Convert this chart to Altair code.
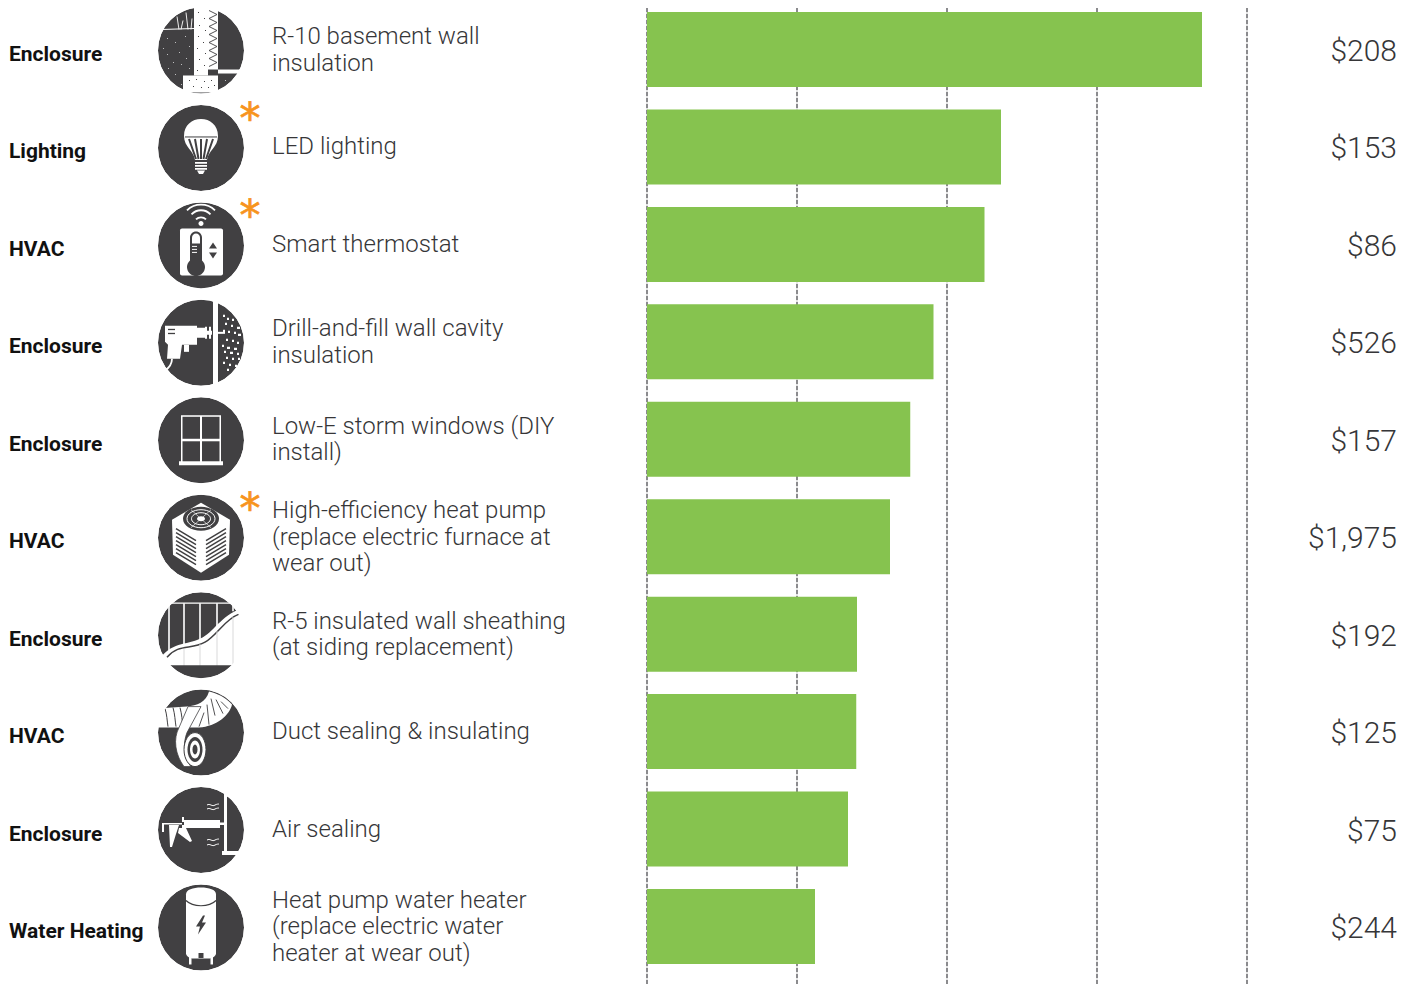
import altair as alt
import pandas as pd

categories = ["Enclosure", "Lighting", "HVAC", "Enclosure", "Enclosure", "HVAC", "Enclosure", "HVAC", "Enclosure", "Water Heating"]
measures = [
    "R-10 basement wall\ninsulation", "LED lighting", "Smart thermostat",
    "Drill-and-fill wall cavity\ninsulation", "Low-E storm windows (DIY\ninstall)",
    "High-efficiency heat pump\n(replace electric furnace at\nwear out)",
    "R-5 insulated wall sheathing\n(at siding replacement)", "Duct sealing & insulating",
    "Air sealing", "Heat pump water heater\n(replace electric water\nheater at wear out)",
]
ratios = [3.70, 2.36, 2.25, 1.91, 1.755, 1.62, 1.40, 1.395, 1.34, 1.12]
costs = ["$208", "$153", "$86", "$526", "$157", "$1,975", "$192", "$125", "$75", "$244"]
starred = [False, True, True, False, False, True, False, False, False, False]
grid_values = [0, 1, 2, 3, 4]

DARK = "#414042"; W = "#ffffff"; TEXT = "#363638"

def rect(x, y, w, h):
    return f"M{x} {y}h{w}v{h}h{-w}Z"

def ell(cx, cy, rx, ry):
    return f"M{cx-rx} {cy}a{rx} {ry} 0 1 0 {2*rx} 0a{rx} {ry} 0 1 0 {-2*rx} 0Z"

# icon drawings: (path in px around the circle centre, fill, stroke, stroke width)
icons = {
    0: [
        (rect(-7, -45, 14, 70), W, "none", 0), (rect(-18, 25, 35, 17), W, "none", 0),
        (rect(7, -45, 10, 64), W, "none", 0),
        ("M8-40L16-36M16-36L8-32L16-28L8-24L16-20L8-16L16-12L8-8L16-4L8 0L16 4L8 8L16 12L8 16", "none", DARK, 0.9),
        (rect(17, 19, 27, 4), W, "none", 0), ("M-40-21L-7-22", "none", W, 1),
        ("M-22-21L-24-34M-20-21L-18-30M-13-21L-15-38M-10-21L-9-32", "none", W, 0.9),
        ("M-3-38h1M3-32h1M-2-25h1M4-20h1M-3-14h1M2-8h1M-4-2h1M4 3h1M-2 9h1M3 15h1M-4 20h1M-12 30h1M-5 29h1M3 31h1M10 30h1M-8 36h1M0 37h1M7 37h1M13 35h1", "none", DARK, 1.2),
        ("M-34-12h1M-26-8h1M-16-14h1M-12-4h1M-22 2h1M-34 4h1M-15 8h1M-28 12h1M-38-2h1M-20 14h1M-33 18h1M-12 18h1M-26 24h1M-20 34h1M24 30h1M32 28h1", "none", "#bfbfc0", 1),
    ],
    1: [
        ("M-6 12C-7 3-17-1-17-12C-17-23-9-29 0-29C9-29 17-23 17-12C17-1 7 3 6 12Z", W, "none", 0),
        ("M-12-9L-5 11M-6-9L-2.500 11M0-9V11M6-9L2.500 11M12-9L5 11", "none", DARK, 2),
        ("M-16-11H16", "none", DARK, 1),
        ("M-6 15H6M-6 18H6M-6 21H6", "none", W, 1.800),
        ("M-4 22.500H4L2 26H-2Z", W, "none", 0),
    ],
    2: [
        ("M-21-15a2 2 0 0 1 2-2H20a2 2 0 0 1 2 2V28a2 2 0 0 1-2 2H-19a2 2 0 0 1-2-2Z", W, "none", 0),
        ("M-11 15V-8a6 6 0 0 1 12 0V15a9 9 0 1 1-12 0Z", DARK, "none", 0),
        ("M-9-2V-8a4 4 0 0 1 8 0V-2Z", W, "none", 0),
        ("M-9 1H-4M-9 4H-4M-9 7H-4", "none", W, 1),
        ("M12-3L16 3H8ZM12 13L16 7H8Z", DARK, "none", 0),
        (ell(0, -22, 2.5, 2.5), W, "none", 0),
        ("M-5-26A7 7 0 0 1 5-26M-9.500-31A13 13 0 0 1 9.500-31M-14-35A20 20 0 0 1 14-35", "none", W, 1.800),
    ],
    3: [
        (rect(12, -46, 5, 92), W, "none", 0),
        ("M-36-17H-4V2H-19L-21 16H-34L-33 2L-36-1Z", W, "none", 0),
        ("M-29 16C-29 22-32 25-36 28", "none", W, 1.8),
        ("M-4-15H4V-12H11V-8H4V-5H-4Z", W, "none", 0),
        (rect(4, -16, 2, 12), W, "none", 0), (rect(8, -16, 2, 12), W, "none", 0),
        (rect(12, -11, 12, 2), W, "none", 0),
        (rect(-17, 2, 5, 7), W, "none", 0),
        (rect(-33, -14, 7, 1.3), DARK, "none", 0), (rect(-33, -10, 7, 1.3), DARK, "none", 0),
        ("M22-27h2M26-24h2M31-23h2M24-19h2M30-17h2M36-15h3M22-12h2M27-11h2M33-10h2M37-8h3M25-3h2M31-2h2M36 0h2M21 3h2M26 5h3M33 6h3M23 9h2M29 10h3M36 11h2M25 15h2M31 16h2M37 16h2M22 20h2M28 22h2M34 23h2M26 27h2", "none", W, 2.4),
    ],
    4: [
        ("M-20-25H20V21H22V25H-22V21H-20Z", W, "none", 0),
        (rect(-18.5, -23.5, 17.5, 22), DARK, "none", 0), (rect(1, -23.5, 17.5, 22), DARK, "none", 0),
        (rect(-18.5, 1, 17.5, 20), DARK, "none", 0), (rect(1, 1, 17.5, 20), DARK, "none", 0),
    ],
    5: [
        ("M0-35L29-18L28 17L0 35L-28 17L-29-18Z", W, "none", 0),
        (ell(0, -19, 18, 12), DARK, "none", 0),
        (ell(0, -19, 14, 9), "none", W, 1), (ell(0, -19, 9.5, 6), "none", W, 1),
        (ell(0, -19, 4, 2.5), W, "none", 0),
        ("M-10-28L10-10M10-28L-10-10", "none", W, 0.6),
        ("M-25-9L-5 3M-25-5L-5 7M-25-1L-5 11M-25 3L-5 15M-25 7L-5 19M-25 11L-5 23M-25 15L-5 27M5 3L25-9M5 7L25-5M5 11L25-1M5 15L25 3M5 19L25 7M5 23L25 11M5 27L25 15", "none", DARK, 1.5),
    ],
    6: [
        ("M-40 22C-28 6-12 10 2 2C14-5 22-22 44-28V32H-40Z", W, "none", 0),
        ("M-34 22C-22 8-10 15 4 7C16 0 24-16 38-21", "none", DARK, 1.5),
        ("M-32-32V15M-17-32V9M-1-32V4M16-32V-9M32-32V-24", "none", W, 1.6),
        ("M-44-32H44", "none", W, 1.2),
        ("M-17 14V31M-1 9V31M16-4V31M32-18V31", "none", "#d9d9da", 1),
        ("M-30.800 30A43 43 0 0 0 30.800 30Z", DARK, "none", 0),
    ],
    7: [
        ("M-44-24L-14-26C-4-27 5-30 8-41C16-39 24-36 31-28C29-18 16-6-2-5L-44-5Z", W, "none", 0),
        ("M-36-24C-34-18-34-12-33-6M-28-25C-26-18-26-12-25-6M-21-25C-19-18-19-12-18-6", "none", DARK, 1),
        ("M10-34L14-17M15-33L22-19M20-31L27-24M6-28L8-8M3-20L-2-6", "none", DARK, 0.9),
        ("M-13-26H0L-14 0C-18 10-18 25-10 34H-17C-26 22-28 6-22-5Z", W, DARK, 0.8),
        (ell(-6, 17, 11, 17), W, DARK, 1),
        (ell(-6, 17, 7.5, 12.5), DARK, "none", 0),
        (ell(-6, 17, 5, 9), W, "none", 0),
        (ell(-6, 17, 2.5, 5), DARK, "none", 0),
    ],
    8: [
        ("M23-37H26V21H37V25H21V21H23Z", W, "none", 0),
        ("M26-34L44-29", "none", W, 1),
        ("M-18-10H19V-7.500H23V-5H19V-2H-18Z", W, "none", 0),
        ("M-39 2V-7H-18V-5.500H-37V2Z", W, "none", 0),
        ("M-32-5H-22L-25 4L-29 17H-31ZM-22-2H-15L-9 11L-11 12L-23 3Z", W, "none", 0),
        (rect(-19, -13, 2, 11), W, "none", 0), (rect(-19, -8, 2, 3), DARK, "none", 0),
        ("M6-25C9-27 11-23 14-25C16-26 17-26 18-26M6-21C9-23 11-19 14-21C16-22 17-22 18-22M6 10C9 8 11 12 14 10C16 9 17 9 18 9M6 15C9 13 11 17 14 15C16 14 17 14 18 14", "none", W, 1),
    ],
    9: [
        ("M-15-33C-15-38-8-40 0-40C8-40 15-38 15-33V26C15 29 10 31 8 31H-8C-10 31-15 29-15 26Z", W, "none", 0),
        (rect(-12, 28, 2.5, 9), W, "none", 0), (rect(9.5, 28, 2.5, 9), W, "none", 0),
        ("M-15-27C-8-20 8-20 15-27", "none", DARK, 1.2),
        ("M2-12L-5-1H-1L-3 7L5-5H1L4-12Z", DARK, "none", 0),
        (rect(-2.5, 25.5, 5, 5), DARK, "none", 0),
    ],
}

bars = pd.DataFrame({"category": categories, "measure": measures, "ratio": ratios, "cost": costs})
bars["lines"] = [m.count("\n") + 1 for m in measures]
stars = bars[starred]
grid = pd.DataFrame({"tick": grid_values})

parts = []
for i, m in enumerate(measures):
    parts.append({"measure": m, "path": "circle", "fill": DARK, "stroke": "none", "sw": 0, "size": 7396})
    for p, f, s, sw in icons[i]:
        parts.append({"measure": m, "path": p, "fill": f, "stroke": s, "sw": sw, "size": 4})
    ring = "M-47 0A47 47 0 1 1 47 0A47 47 0 1 1-47 0Z"
    parts.append({"measure": m, "path": ring, "fill": "none", "stroke": W, "sw": 8, "size": 4})
parts = pd.DataFrame(parts)

x_scale = alt.Scale(domain=[0, 4], range=[639, 1239])
y_scale = alt.Scale(domain=measures, range=[4, 956], paddingInner=0.23, paddingOuter=0)
Y = alt.Y("measure:N", scale=y_scale, axis=None, sort=None)
fix = dict(scale=None)

grid_under = alt.Chart(grid).mark_rule(color="#dcdcdc", strokeWidth=1.5).encode(
    x=alt.X("tick:Q", scale=x_scale, axis=None))
gridlines = alt.Chart(grid).mark_rule(color="#6d6e71", strokeWidth=1.5, strokeDash=[4, 2]).encode(
    x=alt.X("tick:Q", scale=x_scale, axis=None))
bar = alt.Chart(bars).mark_bar(color="#86C34F", cornerRadius=0).encode(
    x=alt.X("ratio:Q", scale=x_scale, axis=None), x2=alt.datum(0), y=Y)
icon = alt.Chart(parts).mark_point(filled=True, opacity=1, yOffset=1).encode(
    x=alt.value(193), y=Y,
    shape=alt.Shape("path:N", **fix), fill=alt.Fill("fill:N", **fix),
    stroke=alt.Stroke("stroke:N", **fix), strokeWidth=alt.StrokeWidth("sw:Q", **fix),
    size=alt.Size("size:Q", **fix))
star = alt.Chart(stars).mark_text(text="*", font="DejaVu Sans", fontSize=42, color="#F7941D", stroke="#F7941D", strokeWidth=0.7, dy=-27, baseline="middle", align="center").encode(
    x=alt.value(242), y=Y)
cat = alt.Chart(bars).mark_text(font="Roboto", fontWeight=700, fontSize=21, color="#111111", align="left", baseline="middle", dy=5.5).encode(
    x=alt.value(1), y=Y, text="category:N")
label_layers = [
    alt.Chart(bars[bars["lines"] == n]).mark_text(
        font="Roboto", fontWeight=300, fontSize=24, lineHeight=26.5, lineBreak="\n", color=TEXT,
        align="left", baseline="middle", dy=0.5 - 13 * (n - 1)).encode(x=alt.value(264), y=Y, text="measure:N")
    for n in (1, 2, 3)
]
val = alt.Chart(bars).mark_text(font="Roboto", fontWeight=300, fontSize=30, color=TEXT, align="right", baseline="middle", dy=2.5).encode(
    x=alt.value(1389), y=Y, text="cost:N")

chart = alt.layer(grid_under, gridlines, bar, icon, star, cat, *label_layers, val).properties(
    width=1396, height=976, padding=0, autosize=alt.AutoSizeParams(type="none"),
).configure_view(stroke=None)
chart.save("out.html", embed_options={"renderer": "svg", "actions": False})
